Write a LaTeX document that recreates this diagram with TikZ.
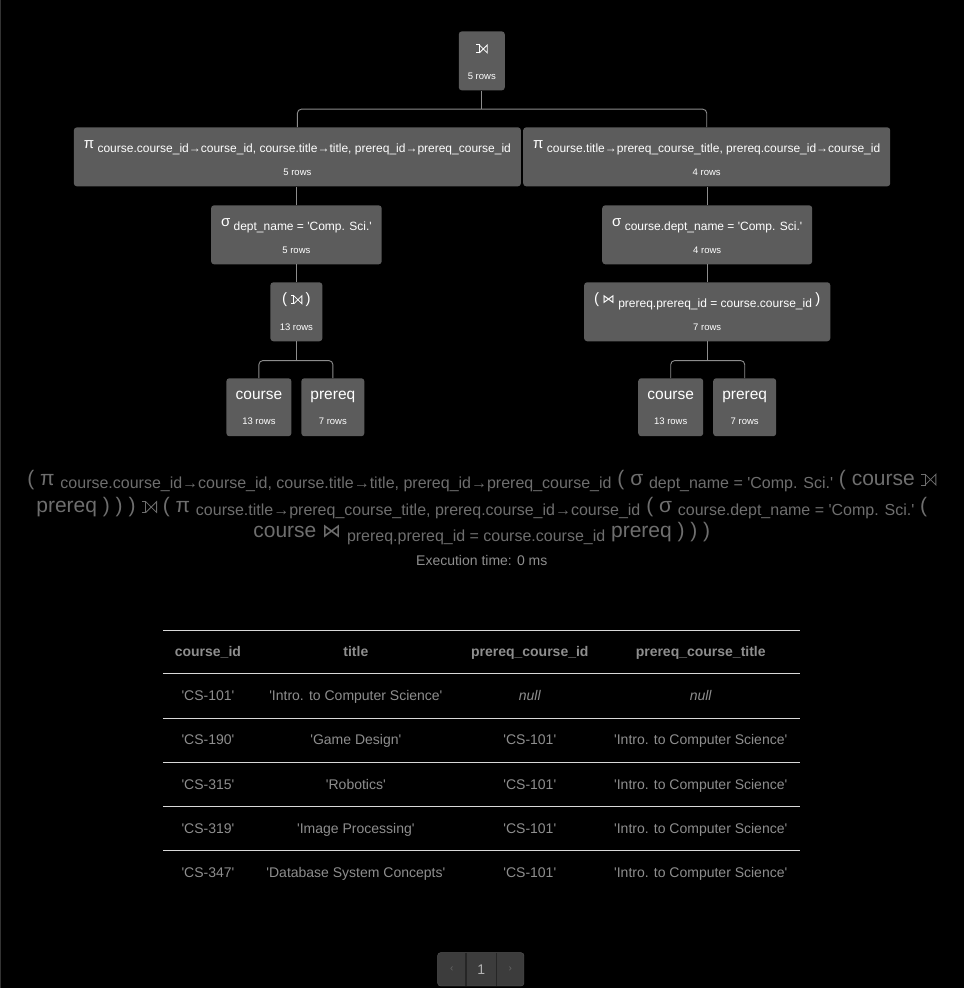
\documentclass[tikz,border=0pt]{standalone}
\usepackage{fontspec}
\setmainfont{Liberation Sans}[Ligatures=TeXOff]
\newfontfamily\symf{DejaVu Sans}
\usetikzlibrary{backgrounds}
\definecolor{boxgray}{HTML}{5C5C5C}
\definecolor{conngray}{HTML}{8C8C8C}
\definecolor{exgray}{HTML}{6E6E6E}
\definecolor{tabgray}{HTML}{8E8E8E}
\definecolor{rulegray}{HTML}{D8D8D8}
\definecolor{pgfill}{HTML}{3C3C3C}
\definecolor{pgedge}{HTML}{555555}
\newcommand\opsym[1]{\raisebox{3.5pt}{\fontsize{15}{15}\selectfont #1}}
\newcommand\opjoin[1]{\raisebox{3.5pt}{\fontsize{12.5}{15}\selectfont\symf #1}}
\newcommand\exsub[1]{\raisebox{-3.5pt}{\fontsize{16}{18}\selectfont #1}}
% left outer join sign, drawn (no font here has it)
\newcommand\lojoin[1]{\tikz[baseline=0pt,x=#1pt,y=#1pt,sharp corners,line width=0.8pt]{%
  \draw (-3,0) -- (0,0) -- (0,8) -- (-3,8); \draw (0,0) -- (8,8) -- (8,0) -- (0,8);}}
\begin{document}
\begin{tikzpicture}[x=1pt,y=-1pt,
  opbox/.style={fill=boxgray,rounded corners=3pt,text=white,anchor=north,
    inner xsep=10pt,inner ysep=0pt,text height=25pt,text depth=34pt,
    font=\fontsize{12}{14}\selectfont},
  leafbox/.style={opbox,inner xsep=9pt,text depth=33pt,font=\fontsize{15.5}{17}\selectfont},
  rowtxt/.style={anchor=base,text=white,inner sep=0pt,font=\fontsize{9.5}{11}\selectfont},
  conn/.style={draw=conngray,line width=0.9pt},
  extxt/.style={anchor=base,text=exgray,inner sep=0pt,font=\fontsize{21}{24}\selectfont},
  cell/.style={anchor=base,text=tabgray,inner sep=0pt,font=\fontsize{14}{16}\selectfont},
  hcell/.style={cell,font=\fontsize{14}{16}\selectfont\bfseries},
  rule/.style={draw=rulegray,line width=0.9pt},
  pgbtn/.style={inner sep=0pt,minimum height=33pt}]
  \begin{scope}[on background layer]
    \fill[black] (0,0) rectangle (964,988);
    \draw[black!80!white] (0.5,0) -- (0.5,988);
  \end{scope}

  % operator tree
  \node[opbox,minimum width=46pt] (top) at (482,31) {\raisebox{3.5pt}{\lojoin{1}}};
  \node[rowtxt] (top-n) at ([yshift=-48pt]top.north) {5 rows};
  \node[opbox] (pl) at (297.5,127)
    {\opsym{π}\ course.course\_id→course\_id, course.title→title, prereq\_id→prereq\_course\_id};
  \node[rowtxt] (pl-n) at ([yshift=-48pt]pl.north) {5 rows};
  \node[opbox] (pr) at (707,127)
    {\opsym{π}\ course.title→prereq\_course\_title, prereq.course\_id→course\_id};
  \node[rowtxt] (pr-n) at ([yshift=-48pt]pr.north) {4 rows};
  \node[opbox] (sl) at (296.5,205) {\opsym{σ}\ dept\_name = 'Comp. Sci.'};
  \node[rowtxt] (sl-n) at ([yshift=-48pt]sl.north) {5 rows};
  \node[opbox] (sr) at (707.5,205) {\opsym{σ}\ course.dept\_name = 'Comp. Sci.'};
  \node[rowtxt] (sr-n) at ([yshift=-48pt]sr.north) {4 rows};
  \node[opbox,minimum width=52pt,inner xsep=6pt] (jl) at (296.5,282)
    {\opsym{(}\ \raisebox{3.5pt}{\lojoin{1}}\ \opsym{)}};
  \node[rowtxt] (jl-n) at ([yshift=-48pt]jl.north) {13 rows};
  \node[opbox] (jr) at (707.5,282)
    {\opsym{(}\ \opjoin{⋈}\ prereq.prereq\_id = course.course\_id\ \opsym{)}};
  \node[rowtxt] (jr-n) at ([yshift=-48pt]jr.north) {7 rows};
  \node[leafbox,minimum width=65pt] (lc) at (259,378) {\raisebox{4pt}{course}};
  \node[rowtxt] (lc-n) at ([yshift=-46pt]lc.north) {13 rows};
  \node[leafbox,minimum width=63pt] (lp) at (333,378) {\raisebox{4pt}{prereq}};
  \node[rowtxt] (lp-n) at ([yshift=-46pt]lp.north) {7 rows};
  \node[leafbox,minimum width=65pt] (rc) at (671,378) {\raisebox{4pt}{course}};
  \node[rowtxt] (rc-n) at ([yshift=-46pt]rc.north) {13 rows};
  \node[leafbox,minimum width=63pt] (rp) at (745,378) {\raisebox{4pt}{prereq}};
  \node[rowtxt] (rp-n) at ([yshift=-46pt]rp.north) {7 rows};

  \draw[conn,rounded corners=4pt] (pl.north) -- ++(0,-18) coordinate (bus0) -| (pr.north);
  \draw[conn] (top.south) -- (top.south |- bus0);
  \draw[conn] (sl.north) -- (sl.north |- pl.south);
  \draw[conn] (sr.north) -- (sr.north |- pr.south);
  \draw[conn] (jl.north) -- (jl.north |- sl.south);
  \draw[conn] (jr.north) -- (jr.north |- sr.south);
  \draw[conn,rounded corners=4pt] (lc.north) -- ++(0,-17.5) coordinate (bus1) -| (lp.north);
  \draw[conn] (jl.south) -- (jl.south |- bus1);
  \draw[conn,rounded corners=4pt] (rc.north) -- ++(0,-17.5) coordinate (bus2) -| (rp.north);
  \draw[conn] (jr.south) -- (jr.south |- bus2);

  % expression
  \node[extxt] (ex1) at (482,485) {( π \exsub{course.course\_id→course\_id, course.title→title, prereq\_id→prereq\_course\_id} ( σ \exsub{dept\_name = 'Comp. Sci.'} ( course \lojoin{1.35}};
  \node[extxt] (ex2) at (482,512.5) {prereq ) ) ) \lojoin{1.35} ( π \exsub{course.title→prereq\_course\_title, prereq.course\_id→course\_id} ( σ \exsub{course.dept\_name = 'Comp. Sci.'} (};
  \node[extxt] (ex3) at (482,538) {course {\symf\fontsize{19}{21}\selectfont ⋈} \exsub{prereq.prereq\_id = course.course\_id} prereq ) ) )};
  \node[cell,text=tabgray] (time) at (482,566) {Execution time: 0 ms};

  % result table
  \draw[rule] (163,630) -- (800,630);
  \draw[rule] (163,674) -- (800,674);
  \draw[rule] (163,719) -- (800,719);
  \draw[rule] (163,763) -- (800,763);
  \draw[rule] (163,807) -- (800,807);
  \draw[rule] (163,851) -- (800,851);
  \node[hcell] (h1) at (208,657) {course\_id};
  \node[hcell] (h2) at (356,657) {title};
  \node[hcell] (h3) at (530,657) {prereq\_course\_id};
  \node[hcell] (h4) at (701,657) {prereq\_course\_title};
  \node[cell] (a1) at (208,701) {'CS-101'};
  \node[cell] (a2) at (356,701) {'Intro. to Computer Science'};
  \node[cell] (a3) at (530,701) {\itshape null};
  \node[cell] (a4) at (701,701) {\itshape null};
  \node[cell] (b1) at (208,745) {'CS-190'};
  \node[cell] (b2) at (356,745) {'Game Design'};
  \node[cell] (b3) at (530,745) {'CS-101'};
  \node[cell] (b4) at (701,745) {'Intro. to Computer Science'};
  \node[cell] (c1) at (208,790) {'CS-315'};
  \node[cell] (c2) at (356,790) {'Robotics'};
  \node[cell] (c3) at (530,790) {'CS-101'};
  \node[cell] (c4) at (701,790) {'Intro. to Computer Science'};
  \node[cell] (d1) at (208,834) {'CS-319'};
  \node[cell] (d2) at (356,834) {'Image Processing'};
  \node[cell] (d3) at (530,834) {'CS-101'};
  \node[cell] (d4) at (701,834) {'Intro. to Computer Science'};
  \node[cell] (e1) at (208,878) {'CS-347'};
  \node[cell] (e2) at (356,878) {'Database System Concepts'};
  \node[cell] (e3) at (530,878) {'CS-101'};
  \node[cell] (e4) at (701,878) {'Intro. to Computer Science'};

  % pager
  \node[pgbtn,minimum width=28pt,text=black!60!white,font=\fontsize{10}{12}\selectfont] (prev) at (452,969.5) {‹};
  \node[pgbtn,minimum width=31pt,text=black!30!white,font=\fontsize{14}{16}\selectfont] (page) at (481.5,969.5) {1};
  \node[pgbtn,minimum width=27pt,text=black!60!white,font=\fontsize{10}{12}\selectfont] (next) at (510.5,969.5) {›};
  \begin{scope}[on background layer]
    \draw[fill=pgfill,draw=pgedge,rounded corners=3pt] (prev.north west) rectangle (next.south east);
  \end{scope}
  \draw[black!85!white,line width=1.5pt] (prev.north east) -- (prev.south east);
  \draw[black!85!white,line width=1.5pt] (next.north west) -- (next.south west);
\end{tikzpicture}
\end{document}
